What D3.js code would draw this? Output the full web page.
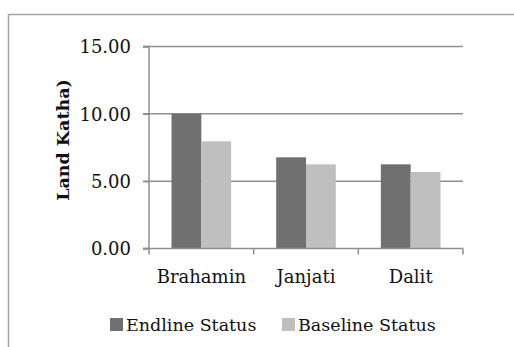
<!DOCTYPE html>
<html>
<head>
<meta charset="utf-8">
<script src="https://cdn.jsdelivr.net/npm/d3@7/dist/d3.min.js"></script>
<style>
  html, body { margin: 0; padding: 0; background: #fff; }
  svg { display: block; }
</style>
</head>
<body>
<svg id="chart" width="514" height="347"></svg>
<script>
// Land holdings (in Katha) by caste group, endline vs baseline
const categories = ["Brahamin", "Janjati", "Dalit"];
const seriesNames = ["Endline Status", "Baseline Status"];
const endline = [10.0, 6.77, 6.25];
const baseline = [7.96, 6.25, 5.68];
const yTicks = [0, 5, 10, 15];
const yTitle = "Land Katha)";

const colors = ["#707070", "#bfbfbf"];
const font = "'DejaVu Serif', serif";

const svg = d3.select("#chart");

// outer frame
svg.append("path")
  .attr("d", "M8.5,347 V14.5 H514")
  .attr("fill", "none")
  .attr("stroke", "#a6a6a6")
  .attr("stroke-width", 1.5);

const plot = { left: 149, right: 463, top: 46.5, bottom: 248.5 };

const x = d3.scaleBand().domain(categories).range([plot.left, plot.right]).paddingInner(0).paddingOuter(0);
const xInner = d3.scaleBand().domain(seriesNames).range([0, x.bandwidth()]).paddingInner(0).paddingOuter(0.755);
const y = d3.scaleLinear().domain([0, 15]).range([plot.bottom, plot.top]);

// horizontal gridlines
svg.append("g")
  .selectAll("line")
  .data(yTicks.filter(d => d > 0))
  .join("line")
  .attr("x1", plot.left - 6).attr("x2", plot.right)
  .attr("y1", d => y(d)).attr("y2", d => y(d))
  .attr("stroke", "#8f8f8f").attr("stroke-width", 1.5);

// bars
const groups = svg.append("g")
  .selectAll("g")
  .data(categories.map((c, i) => ({ c, vals: [endline[i], baseline[i]] })))
  .join("g")
  .attr("transform", d => `translate(${x(d.c)},0)`);

groups.selectAll("rect")
  .data(d => d.vals.map((v, j) => ({ v, s: seriesNames[j], j })))
  .join("rect")
  .attr("x", d => xInner(d.s))
  .attr("width", xInner.bandwidth())
  .attr("y", d => y(d.v))
  .attr("height", d => y(0) - y(d.v))
  .attr("fill", d => colors[d.j]);

// y axis
const yAxis = d3.axisLeft(y).tickValues(yTicks).tickSize(6).tickPadding(12).tickFormat(d3.format(".2f"));
const gy = svg.append("g").attr("transform", `translate(${plot.left},0)`).call(yAxis);
gy.select(".domain").attr("stroke", "#8f8f8f").attr("stroke-width", 1.5).attr("d", `M-6,${plot.top}H0V${plot.bottom}H-6`);
gy.selectAll(".tick line").attr("stroke", "#8f8f8f").attr("stroke-width", 1.5);
gy.selectAll(".tick text").attr("font-family", font).attr("font-size", 18).attr("fill", "#111").attr("dy", "0.36em");

// x axis with boundary ticks
const gx = svg.append("g").attr("transform", `translate(0,${plot.bottom})`);
gx.append("line").attr("x1", plot.left - 6).attr("x2", plot.right).attr("y1", 0).attr("y2", 0)
  .attr("stroke", "#8f8f8f").attr("stroke-width", 1.5);
const bounds = categories.map(c => x(c)).concat([plot.right]);
gx.selectAll("line.b").data(bounds).join("line").attr("class", "b")
  .attr("x1", d => d).attr("x2", d => d).attr("y1", 0).attr("y2", 6)
  .attr("stroke", "#8f8f8f").attr("stroke-width", 1.5);
gx.selectAll("text").data(categories).join("text")
  .attr("x", d => x(d) + x.bandwidth() / 2)
  .attr("y", 34)
  .attr("text-anchor", "middle")
  .attr("font-family", font).attr("font-size", 18).attr("fill", "#111")
  .text(d => d);

// y axis title
svg.append("text")
  .attr("transform", "translate(69,140) rotate(-90)")
  .attr("text-anchor", "middle")
  .attr("font-family", font).attr("font-size", 17.5).attr("font-weight", "bold").attr("fill", "#111")
  .text(yTitle);

// legend
const legendItems = [
  { name: seriesNames[0], color: colors[0], x: 110 },
  { name: seriesNames[1], color: colors[1], x: 282 }
];
const lg = svg.append("g").selectAll("g").data(legendItems).join("g")
  .attr("transform", d => `translate(${d.x},0)`);
lg.append("rect").attr("x", 0).attr("y", 318).attr("width", 13).attr("height", 13).attr("fill", d => d.color);
lg.append("text").attr("x", 16).attr("y", 331)
  .attr("font-family", font).attr("font-size", 17.5).attr("fill", "#111")
  .text(d => d.name);
</script>
</body>
</html>
